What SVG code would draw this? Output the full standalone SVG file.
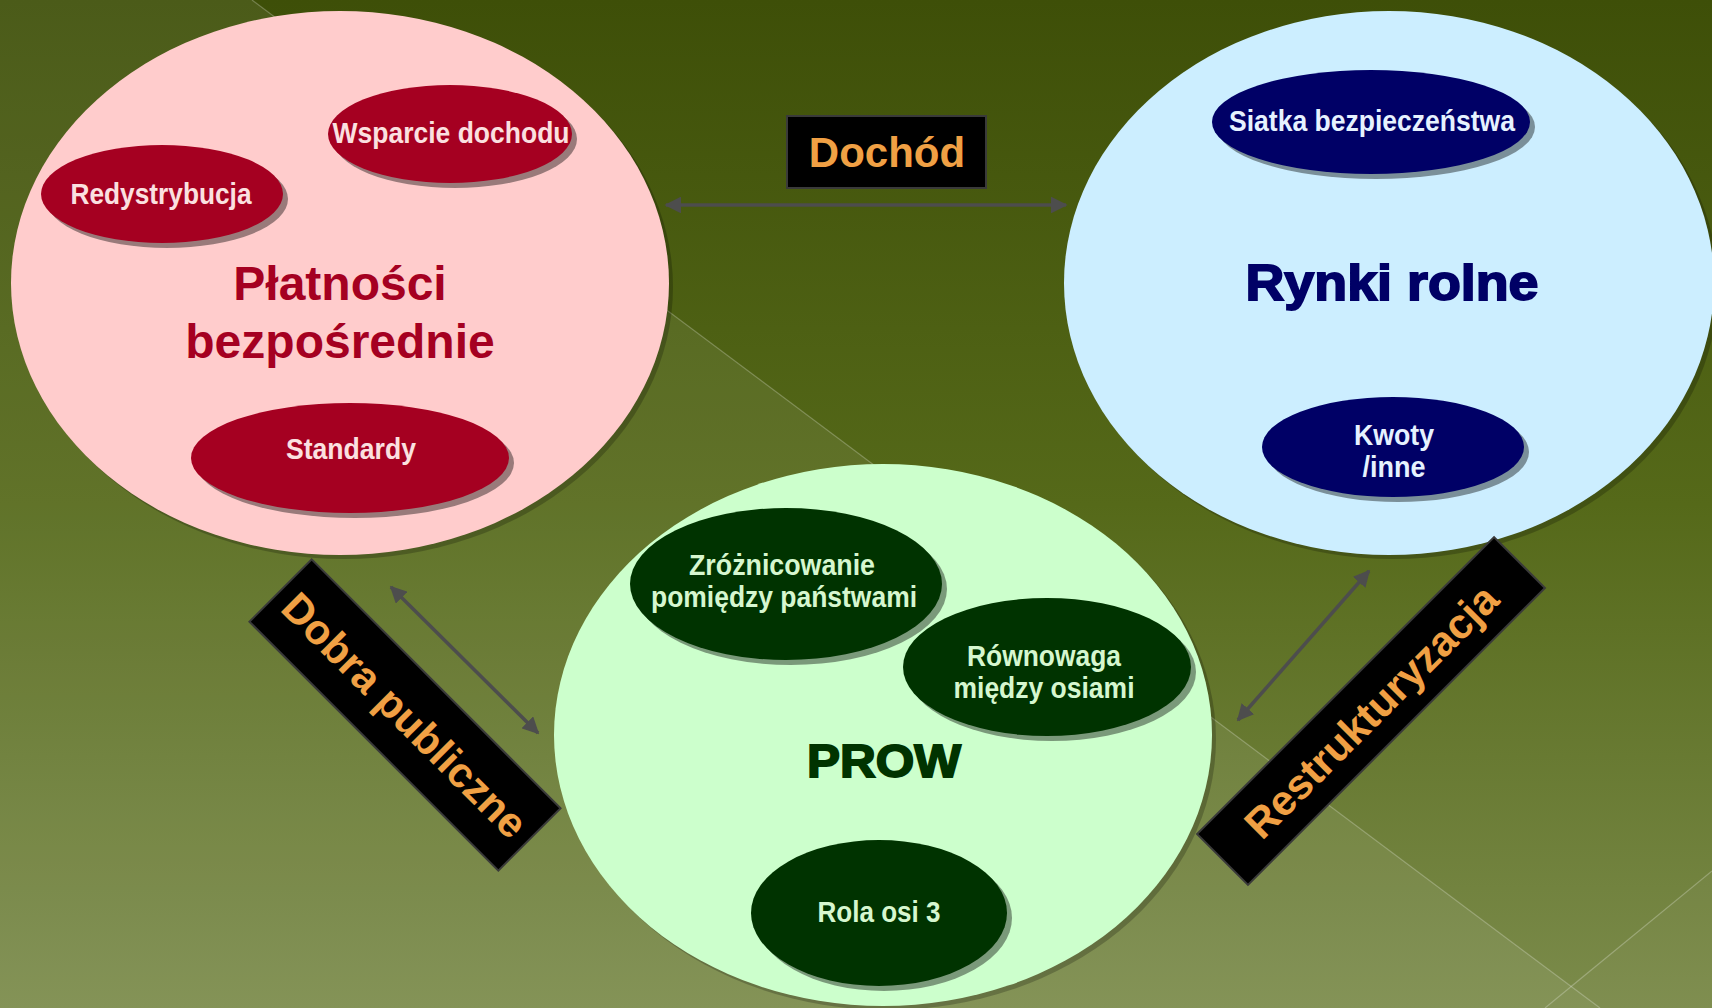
<svg xmlns="http://www.w3.org/2000/svg" width="1712" height="1008" viewBox="0 0 1712 1008">
<defs>
<linearGradient id="bg" x1="0" y1="0" x2="0" y2="1">
<stop offset="0" stop-color="#3e4f08"/>
<stop offset="0.5" stop-color="#556919"/>
<stop offset="1" stop-color="#7b8b4b"/>
</linearGradient>
<marker id="arr" viewBox="0 0 10 10" refX="9" refY="5" markerWidth="4.8" markerHeight="4.8" orient="auto-start-reverse" markerUnits="strokeWidth">
<path d="M0,0 L10,5 L0,10 z" fill="#4d4d4d"/>
</marker>
<style>
.shadowBig{fill:#000;opacity:0.22}
.shadowSmall{fill:#000;opacity:0.4}
.conn{stroke:#4d4d4d;stroke-width:3.5;fill:none;marker-start:url(#arr);marker-end:url(#arr)}
.box{fill:#000;stroke:#3a3a3a;stroke-width:2}
.lbl{font-family:"Liberation Sans",Arial,sans-serif;font-weight:bold;fill:#f0a044;text-anchor:middle}
.t{font-family:"Liberation Sans",Arial,sans-serif;font-weight:bold;text-anchor:middle;font-size:29px}
.tr{fill:#fbe0e0}
.tb{fill:#e6f2ff}
.tg{fill:#d6f7cf}
.big{font-family:"Liberation Sans",Arial,sans-serif;font-weight:bold;text-anchor:middle}
</style>
</defs>

<g id="background">
<rect x="0" y="0" width="1712" height="1008" fill="url(#bg)"/>
<polygon points="0,0 252,0 1600,1008 0,1008" fill="#fff" opacity="0.07"/>
<polygon points="1712,871 1570,986 1600,1008 1712,1008" fill="#fff" opacity="0.03"/>
<line x1="252" y1="0" x2="1600" y2="1008" stroke="#fff" stroke-opacity="0.25" stroke-width="1.2"/>
<line x1="1712" y1="871" x2="1545" y2="1008" stroke="#fff" stroke-opacity="0.25" stroke-width="1.2"/>
</g>

<g id="node-platnosci">
<ellipse cx="344" cy="287" rx="329" ry="272" class="shadowBig"/>
<ellipse cx="340" cy="283" rx="329" ry="272" fill="#ffcccc"/>
<text class="big" x="340" y="300" font-size="48" fill="#a50021">Płatności</text>
<text class="big" x="340" y="358" font-size="48" fill="#a50021">bezpośrednie</text>
</g>

<g id="node-rynki">
<ellipse cx="1393" cy="287" rx="325" ry="272" class="shadowBig"/>
<ellipse cx="1389" cy="283" rx="325" ry="272" fill="#cceeff"/>
<text class="big" x="1392" y="300" font-size="50" fill="#000066" stroke="#000066" stroke-width="1.8" textLength="293" lengthAdjust="spacingAndGlyphs">Rynki rolne</text>
</g>

<g id="node-prow">
<ellipse cx="887" cy="739" rx="329" ry="271" class="shadowBig"/>
<ellipse cx="883" cy="735" rx="329" ry="271" fill="#ccffcc"/>
<text class="big" x="884" y="777" font-size="46" fill="#003300" stroke="#003300" stroke-width="1.8" textLength="154" lengthAdjust="spacingAndGlyphs">PROW</text>
</g>

<g id="node-wsparcie">
<ellipse cx="455" cy="139" rx="122" ry="49" class="shadowSmall"/>
<ellipse cx="450" cy="134" rx="122" ry="49" fill="#a50021"/>
<text class="t tr" x="451" y="143" textLength="237" lengthAdjust="spacingAndGlyphs">Wsparcie dochodu</text>
</g>

<g id="node-redystrybucja">
<ellipse cx="167" cy="199" rx="121" ry="49" class="shadowSmall"/>
<ellipse cx="162" cy="194" rx="121" ry="49" fill="#a50021"/>
<text class="t tr" x="161" y="204" textLength="181" lengthAdjust="spacingAndGlyphs">Redystrybucja</text>
</g>

<g id="node-standardy">
<ellipse cx="355" cy="463" rx="159" ry="55" class="shadowSmall"/>
<ellipse cx="350" cy="458" rx="159" ry="55" fill="#a50021"/>
<text class="t tr" x="351" y="459" textLength="130" lengthAdjust="spacingAndGlyphs">Standardy</text>
</g>

<g id="node-siatka">
<ellipse cx="1376" cy="127" rx="159" ry="52" class="shadowSmall"/>
<ellipse cx="1371" cy="122" rx="159" ry="52" fill="#000066"/>
<text class="t tb" x="1372" y="131" textLength="286" lengthAdjust="spacingAndGlyphs">Siatka bezpieczeństwa</text>
</g>

<g id="node-kwoty">
<ellipse cx="1398" cy="452" rx="131" ry="50" class="shadowSmall"/>
<ellipse cx="1393" cy="447" rx="131" ry="50" fill="#000066"/>
<text class="t tb" x="1394" y="445" textLength="80" lengthAdjust="spacingAndGlyphs">Kwoty</text>
<text class="t tb" x="1394" y="477" textLength="63" lengthAdjust="spacingAndGlyphs">/inne</text>
</g>

<g id="node-zroznicowanie">
<ellipse cx="791" cy="589" rx="156" ry="76" class="shadowSmall"/>
<ellipse cx="786" cy="584" rx="156" ry="76" fill="#003300"/>
<text class="t tg" x="782" y="575" textLength="186" lengthAdjust="spacingAndGlyphs">Zróżnicowanie</text>
<text class="t tg" x="784" y="607" textLength="266" lengthAdjust="spacingAndGlyphs">pomiędzy państwami</text>
</g>

<g id="node-rownowaga">
<ellipse cx="1052" cy="672" rx="144" ry="69" class="shadowSmall"/>
<ellipse cx="1047" cy="667" rx="144" ry="69" fill="#003300"/>
<text class="t tg" x="1044" y="666" textLength="154" lengthAdjust="spacingAndGlyphs">Równowaga</text>
<text class="t tg" x="1044" y="698" textLength="181" lengthAdjust="spacingAndGlyphs">między osiami</text>
</g>

<g id="node-rola">
<ellipse cx="884" cy="918" rx="128" ry="73" class="shadowSmall"/>
<ellipse cx="879" cy="913" rx="128" ry="73" fill="#003300"/>
<text class="t tg" x="879" y="922" textLength="123" lengthAdjust="spacingAndGlyphs">Rola osi 3</text>
</g>

<g id="connectors">
<line class="conn" x1="666" y1="205" x2="1066" y2="205"/>
<line class="conn" x1="391" y1="587" x2="538" y2="733"/>
<line class="conn" x1="1369" y1="571" x2="1238" y2="720"/>
</g>

<g id="label-dochod">
<rect class="box" x="787" y="116" width="199" height="72"/>
<text class="lbl" x="887" y="167" font-size="42">Dochód</text>
</g>

<g id="label-dobra">
<g transform="translate(405,715) rotate(45)">
<rect class="box" x="-176" y="-44" width="352" height="88"/>
<text class="lbl" x="0" y="15" font-size="42">Dobra publiczne</text>
</g>
</g>

<g id="label-restrukturyzacja">
<g transform="translate(1371,711) rotate(-45)">
<rect class="box" x="-210" y="-36" width="420" height="72"/>
<text class="lbl" x="0" y="15" font-size="42">Restrukturyzacja</text>
</g>
</g>
</svg>
